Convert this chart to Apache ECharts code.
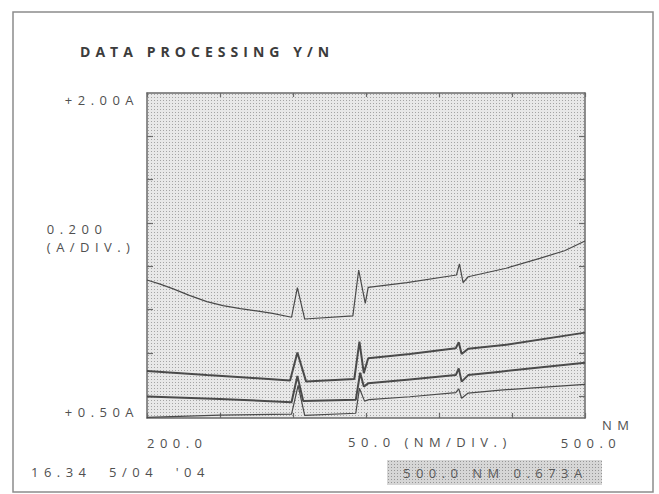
<!DOCTYPE html>
<html>
<head>
<meta charset="utf-8">
<title>DATA PROCESSING Y/N</title>
<script src="https://cdn.jsdelivr.net/npm/echarts@6/dist/echarts.min.js"></script>
<style>
    html, body { margin: 0; padding: 0; background: #fff; }
    #charts { width: 659px; height: 494px; }
    /* the instrument printout is widely letter spaced */
    #charts text { letter-spacing: 0.42em; }
    #charts text[style*="bold"] { letter-spacing: 0.36em; }
</style>
</head>
<body>
<div id="charts"></div>
<script>
    // wavelength (nm) / absorbance (A), top curve first
    var nmA = [200, 209, 218, 229, 241, 252, 264, 275, 286, 299, 303, 308, 341, 345, 349.5, 351.5, 378, 412, 414, 416.5, 420, 446, 469, 486, 500];
    var absA = [1.137, 1.118, 1.096, 1.066, 1.037, 1.019, 1.005, 0.994, 0.983, 0.965, 1.102, 0.957, 0.971, 1.183, 1.029, 1.103, 1.125, 1.160, 1.211, 1.125, 1.152, 1.191, 1.237, 1.272, 1.317];

    var nmB = [200, 241, 270, 298, 303, 309, 342, 345.5, 348.5, 351.5, 380, 411.5, 413.5, 415.5, 420, 446, 500];
    var absB = [0.717, 0.698, 0.686, 0.673, 0.802, 0.668, 0.680, 0.852, 0.707, 0.776, 0.795, 0.822, 0.850, 0.795, 0.820, 0.838, 0.894];

    var nmC = [200, 250, 299, 303, 307, 343, 346, 348.5, 351.5, 380, 411.5, 413.5, 415.5, 420, 442, 500];
    var absC = [0.599, 0.588, 0.573, 0.694, 0.578, 0.584, 0.709, 0.645, 0.660, 0.678, 0.698, 0.729, 0.668, 0.698, 0.714, 0.755];

    var nmD = [200, 250, 299, 303.5, 308, 343, 345.5, 349, 352, 380, 411.5, 413.5, 415.5, 420, 442, 500];
    var absD = [0.503, 0.513, 0.518, 0.650, 0.512, 0.522, 0.637, 0.578, 0.585, 0.598, 0.617, 0.635, 0.591, 0.615, 0.629, 0.655];

    var xLabels = [200, 500];
    var yLabels = [0.5, 2.0];
    var yTicks = [0.6, 0.8, 1.0, 1.2, 1.4, 1.6, 1.8];

    var FONT = 'Open Sans';
    var INK = '#505050';
    var AXIS = '#6a6a6a';

    function pairs(xs, ys) {
        return xs.map(function (x, i) { return [x, ys[i]]; });
    }

    // dotted screen fill like the LCD background
    function dots(bg, dot) {
        var c = document.createElement('canvas');
        c.width = 3;
        c.height = 3;
        var ctx = c.getContext('2d');
        ctx.fillStyle = bg;
        ctx.fillRect(0, 0, 3, 3);
        ctx.fillStyle = dot;
        ctx.fillRect(1, 1, 1, 1);
        return { image: c, repeat: 'repeat' };
    }

    function curve(xs, ys, width) {
        return {
            type: 'line',
            data: pairs(xs, ys),
            symbol: 'none',
            silent: true,
            lineStyle: { color: '#4a4a4a', width: width }
        };
    }

    var axisLine = { show: true, onZero: false, lineStyle: { color: AXIS, width: 1.5 } };

    var myCharts = echarts.init(document.getElementById('charts'), null, { renderer: 'svg' });
    myCharts.setOption({
        animation: false,
        backgroundColor: '#fff',
        title: {
            text: 'DATA PROCESSING Y/N',
            left: 80,
            top: 44,
            padding: 0,
            textStyle: { fontFamily: FONT, fontSize: 14, fontWeight: 'bold', color: '#3c3c3c' }
        },
        grid: {
            left: 147,
            right: 74,
            top: 93,
            bottom: 76,
            show: true,
            borderWidth: 0,
            backgroundColor: dots('#e8e8e8', '#a4a4a4')
        },
        xAxis: [
            {
                type: 'value',
                position: 'bottom',
                min: 200,
                max: 500,
                interval: 50,
                axisLine: axisLine,
                axisTick: { show: true, inside: true, length: 5, lineStyle: { color: AXIS, width: 1.2 } },
                axisLabel: {
                    customValues: xLabels,
                    formatter: function (v) {
                        return v === 500 ? '{r|' + v.toFixed(1) + '}' : v.toFixed(1);
                    },
                    rich: {
                        r: { fontFamily: FONT, fontSize: 13, color: INK, padding: [0, 0, 0, 12] }
                    },
                    alignMinLabel: 'left',
                    margin: 18,
                    fontFamily: FONT,
                    fontSize: 13,
                    color: INK
                },
                splitLine: { show: false },
                name: 'NM',
                nameLocation: 'end',
                nameGap: 17,
                nameTextStyle: { fontFamily: FONT, fontSize: 13, color: INK, verticalAlign: 'top' }
            },
            {
                type: 'value',
                position: 'top',
                min: 200,
                max: 500,
                interval: 50,
                axisLine: axisLine,
                axisTick: { show: true, inside: true, length: 4, lineStyle: { color: AXIS, width: 1.2 } },
                axisLabel: { show: false },
                splitLine: { show: false }
            }
        ],
        yAxis: [
            {
                type: 'value',
                position: 'left',
                min: 0.5,
                max: 2.0,
                axisLine: axisLine,
                axisTick: { show: true, inside: true, length: 6, customValues: yTicks, lineStyle: { color: AXIS, width: 1.2 } },
                axisLabel: {
                    customValues: yLabels,
                    formatter: function (v) { return '+' + v.toFixed(2) + 'A'; },
                    verticalAlignMinLabel: 'bottom',
                    verticalAlignMaxLabel: 'top',
                    margin: 8,
                    fontFamily: FONT,
                    fontSize: 13,
                    color: INK
                },
                splitLine: { show: false },
                name: '0.200\n(A/DIV.)',
                nameLocation: 'middle',
                nameRotate: 0,
                nameGap: 92,
                nameTextStyle: { fontFamily: FONT, fontSize: 13, color: INK, align: 'left', verticalAlign: 'bottom', lineHeight: 18 }
            },
            {
                type: 'value',
                position: 'right',
                min: 0.5,
                max: 2.0,
                axisLine: axisLine,
                axisTick: { show: true, inside: true, length: 6, customValues: yTicks, lineStyle: { color: AXIS, width: 1.2 } },
                axisLabel: { show: false },
                splitLine: { show: false }
            }
        ],
        series: [
            curve(nmA, absA, 1.2),
            curve(nmB, absB, 2),
            curve(nmC, absC, 2),
            curve(nmD, absD, 1.2)
        ],
        graphic: [
            {
                type: 'rect',
                shape: { x: 13, y: 12, width: 640, height: 480 },
                style: { fill: 'none', stroke: '#8c8c8c', lineWidth: 1.5 },
                silent: true
            },
            {
                type: 'text',
                left: 348,
                top: 435,
                style: { text: '50.0 (NM/DIV.)', fontFamily: FONT, fontSize: 13, fill: INK }
            },
            {
                type: 'text',
                left: 31,
                top: 465,
                style: { text: "16.34  5/04  '04", fontFamily: FONT, fontSize: 13, fill: INK }
            },
            {
                type: 'group',
                left: 387,
                top: 460,
                children: [
                    {
                        type: 'rect',
                        shape: { x: 0, y: 0, width: 215, height: 25 },
                        style: { fill: dots('#d6d6d6', '#969696') }
                    },
                    {
                        type: 'text',
                        x: 16,
                        y: 12.5,
                        style: { text: '500.0 NM 0.673A', fontFamily: FONT, fontSize: 13, fill: '#5a5a5a', verticalAlign: 'middle' }
                    }
                ]
            }
        ]
    });
</script>
</body>
</html>
